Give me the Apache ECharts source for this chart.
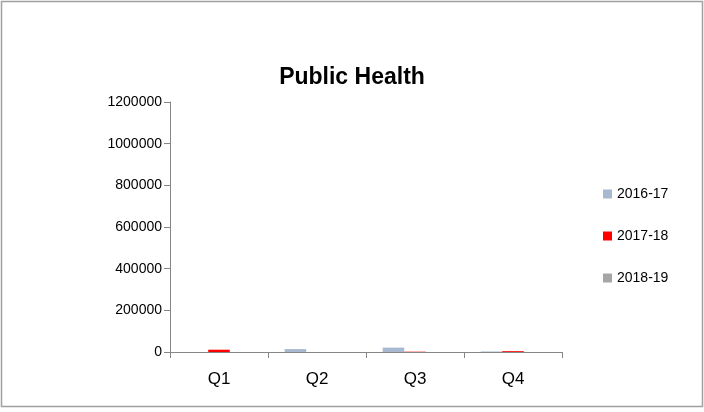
<!DOCTYPE html>
<html>
<head>
<meta charset="utf-8">
<script src="https://cdn.jsdelivr.net/npm/echarts@6/dist/echarts.min.js"></script>
<style>
  html, body { margin: 0; padding: 0; background: #fff; }
  #chart { width: 704px; height: 412px; }
</style>
</head>
<body>
<div id="chart"></div>
<script>
// Quarterly figures per financial year
const quarters = ['Q1', 'Q2', 'Q3', 'Q4'];
const seriesNames = ['2016-17', '2017-18', '2018-19'];
const values2016 = [0, 14000, 21000, 2500];
const values2017 = [11000, 0, 1500, 4000];
const values2018 = [0, 0, 0, 0];
const seriesColors = ['#A9B8D1', '#FF0000', '#A6A6A6'];

const yMin = 0;
const yMax = 1200000;
const yStep = 200000;

const font = '"Liberation Sans", Arial, sans-serif';
const chart = echarts.init(document.getElementById('chart'), null, { renderer: 'canvas' });

const seriesData = [values2016, values2017, values2018];

chart.setOption({
  backgroundColor: '#ffffff',
  animation: false,
  title: {
    text: 'Public Health',
    left: 'center',
    top: 61,
    textStyle: { fontFamily: font, fontWeight: 'bold', fontSize: 23, color: '#000' }
  },
  legend: {
    orient: 'vertical',
    left: 598,
    top: 182,
    itemWidth: 9,
    itemHeight: 9,
    itemGap: 28,
    icon: 'rect',
    textStyle: { fontFamily: font, fontSize: 14, color: '#000', padding: [0, 0, 0, 0] },
    data: seriesNames
  },
  grid: { left: 170, right: 142, top: 102, bottom: 60, containLabel: false },
  xAxis: {
    type: 'category',
    data: quarters,
    axisLine: { lineStyle: { color: '#868686', width: 1 } },
    axisTick: { show: true, alignWithLabel: false, length: 6, lineStyle: { color: '#868686' } },
    axisLabel: { fontFamily: font, fontSize: 17, color: '#000', margin: 19 }
  },
  yAxis: {
    type: 'value',
    min: yMin,
    max: yMax,
    interval: yStep,
    axisLine: { show: true, lineStyle: { color: '#868686', width: 1 } },
    axisTick: { show: true, length: 6, lineStyle: { color: '#868686' } },
    splitLine: { show: false },
    axisLabel: {
      fontFamily: font, fontSize: 14, color: '#000', margin: 8,
      formatter: (v) => String(v)
    }
  },
  series: seriesNames.map((name, i) => ({
    name: name,
    type: 'bar',
    data: seriesData[i],
    barGap: '0%',
    barCategoryGap: '34%',
    itemStyle: { color: seriesColors[i] }
  })),
  graphic: [{
    type: 'rect',
    shape: { x: 1.5, y: 1.5, width: 701, height: 405 },
    style: { fill: null, stroke: '#A0A0A0', lineWidth: 1.5 },
    silent: true
  }]
});
</script>
</body>
</html>
